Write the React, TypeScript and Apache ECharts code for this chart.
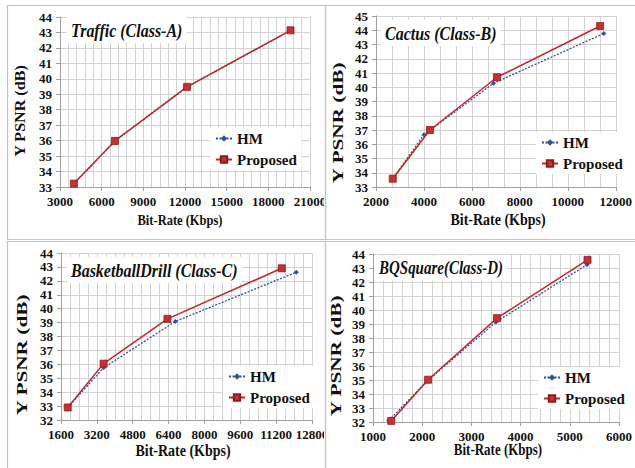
import React, { useEffect, useRef } from "react";
import * as echarts from "echarts";

// Panel titles
const panelTitles = ["Traffic (Class-A)", "Cactus (Class-B)", "BasketballDrill (Class-C)", "BQSquare(Class-D)"];
const seriesNames = ["HM", "Proposed"];

// Traffic (Class-A)
const trafficHMX = [4000, 6950, 12100, 19600];
const trafficHMY = [33.2, 35.97, 39.45, 43.13];
const trafficPX = [4000, 6950, 12150, 19600];
const trafficPY = [33.22, 35.98, 39.48, 43.14];

// Cactus (Class-B)
const cactusHMX = [2700, 4000, 6900, 11500];
const cactusHMY = [33.58, 36.67, 40.28, 43.77];
const cactusPX = [2700, 4250, 7050, 11350];
const cactusPY = [33.58, 37.0, 40.7, 44.3];

// BasketballDrill (Class-C)
const basketHMX = [1900, 3500, 6700, 12100];
const basketHMY = [32.9, 35.75, 39.08, 42.62];
const basketPX = [1900, 3500, 6350, 11450];
const basketPY = [32.9, 36.05, 39.27, 42.9];

// BQSquare (Class-D)
const bqHMX = [1320, 2100, 3500, 5350];
const bqHMY = [32.1, 34.92, 39.14, 43.24];
const bqPX = [1370, 2120, 3520, 5360];
const bqPY = [32.08, 35.02, 39.42, 43.58];

// Axis ranges
const xMins = [3000, 2000, 1600, 1000];
const xMaxs = [21000, 12000, 12800, 6000];
const xIntervals = [3000, 2000, 1600, 1000];
const xMinorSplits = [5, 3, 4, 5];
const yMins = [33, 33, 32, 32];
const yMaxs = [44, 45, 44, 44];

const FONT = "'Liberation Serif', 'Times New Roman', serif";

const pairs = (xs: number[], ys: number[]) => xs.map((x, i) => [x, ys[i]]);

export default function App() {
  const ref = useRef<HTMLDivElement>(null);
  useEffect(() => {
    if (!ref.current) return;
    const chart = echarts.init(ref.current, undefined, { renderer: "svg" });

    const grids = [
      { left: 60, top: 17, width: 250, height: 170 },
      { left: 376, top: 16, width: 245, height: 171 },
      { left: 61, top: 253, width: 251, height: 167 },
      { left: 373, top: 254, width: 255, height: 168 },
    ];
    const data = [
      [pairs(trafficHMX, trafficHMY), pairs(trafficPX, trafficPY)],
      [pairs(cactusHMX, cactusHMY), pairs(cactusPX, cactusPY)],
      [pairs(basketHMX, basketHMY), pairs(basketPX, basketPY)],
      [pairs(bqHMX, bqHMY), pairs(bqPX, bqPY)],
    ];
    const legendPos = [
      { left: 210, top: 128 },
      { left: 536, top: 132 },
      { left: 223, top: 366 },
      { left: 538, top: 367 },
    ];
    const titlePos = [
      { x: 67, y: 30, size: 16 },
      { x: 381, y: 33, size: 16 },
      { x: 67, y: 270, size: 16 },
      { x: 375, y: 268, size: 15 },
    ];
    const yTitlePos = [
      { x: 20, y: 111, size: 14, sx: 1.15 },
      { x: 338, y: 123, size: 15, sx: 1.42 },
      { x: 22, y: 355, size: 15, sx: 1.42 },
      { x: 336, y: 356, size: 15, sx: 1.42 },
    ];
    const xTitlePos = [
      { x: 180, y: 219, size: 12.5 },
      { x: 498, y: 219, size: 14 },
      { x: 183, y: 450, size: 14 },
      { x: 498, y: 449, size: 13 },
    ];

    const axisColor = "#a0a0a0";
    const gridColor = "#d2d2d2";
    const plain = (v: number) => String(v);

    const xAxis = grids.map((_, i) => ({
      type: "value",
      gridIndex: i,
      min: xMins[i],
      max: xMaxs[i],
      interval: xIntervals[i],
      axisLine: { show: true, lineStyle: { color: axisColor, width: 1 } },
      axisTick: { show: true, length: 4, lineStyle: { color: axisColor } },
      axisLabel: { fontFamily: FONT, fontWeight: "bold", fontSize: 13, color: "#111", margin: 8, formatter: plain },
      splitLine: { show: true, lineStyle: { color: gridColor, width: 1 } },
      minorTick: { show: false, splitNumber: xMinorSplits[i] },
      minorSplitLine: { show: true, lineStyle: { color: gridColor, width: 1 } },
    }));
    const yAxis = grids.map((_, i) => ({
      type: "value",
      gridIndex: i,
      min: yMins[i],
      max: yMaxs[i],
      interval: 1,
      axisLine: { show: true, lineStyle: { color: axisColor, width: 1 } },
      axisTick: { show: true, length: 4, lineStyle: { color: axisColor } },
      axisLabel: { fontFamily: FONT, fontWeight: "bold", fontSize: 13, color: "#111", margin: 8, formatter: plain },
      splitLine: { show: true, lineStyle: { color: gridColor, width: 1 } },
    }));

    const series: any[] = [];
    data.forEach((d, i) => {
      series.push({
        name: seriesNames[0],
        type: "line",
        xAxisIndex: i,
        yAxisIndex: i,
        data: d[0],
        symbol: "diamond",
        symbolSize: 5,
        color: "#2e5597",
        itemStyle: { color: "#2e5597" },
        lineStyle: { color: "#2e5597", width: 1.3, type: [2, 1.5] },
        z: 3,
      });
      series.push({
        name: seriesNames[1],
        type: "line",
        xAxisIndex: i,
        yAxisIndex: i,
        data: d[1],
        symbol: "rect",
        symbolSize: 7,
        color: "#c0282d",
        itemStyle: { color: "#c9302c", borderColor: "#8e1b1e", borderWidth: 0.8 },
        lineStyle: { color: "#c0282d", width: 1.5 },
        z: 4,
      });
    });

    const legend = legendPos.map((p) => ({
      data: seriesNames,
      left: p.left,
      top: p.top,
      orient: "vertical",
      backgroundColor: "#fff",
      padding: [3, 5],
      itemGap: 6,
      itemWidth: 16,
      itemHeight: 8,
      selectedMode: false,
      textStyle: { fontFamily: FONT, fontWeight: "bold", fontSize: 15, color: "#111" },
    }));

    const graphic: any[] = [];
    // clip overflow of right-most labels in left panels
    graphic.push({ type: "rect", z: 50, shape: { x: 324, y: 190, width: 22, height: 48 }, style: { fill: "#fff" } });
    graphic.push({ type: "rect", z: 50, shape: { x: 324, y: 424, width: 22, height: 24 }, style: { fill: "#fff" } });
    // panel frames
    const frameStyle = { fill: "none", stroke: "#c4c4c4", lineWidth: 1.2 };
    graphic.push({ type: "rect", z: 60, shape: { x: 7.5, y: 5.5, width: 318, height: 234 }, style: frameStyle });
    graphic.push({ type: "rect", z: 60, shape: { x: 325.5, y: 5.5, width: 330, height: 234 }, style: frameStyle });
    graphic.push({ type: "rect", z: 60, shape: { x: 7.5, y: 241.5, width: 318, height: 240 }, style: frameStyle });
    graphic.push({ type: "rect", z: 60, shape: { x: 325.5, y: 241.5, width: 330, height: 240 }, style: frameStyle });

    titlePos.forEach((p, i) => {
      graphic.push({
        type: "text",
        z: 40,
        x: p.x,
        y: p.y,
        scaleY: 1.2,
        style: {
          text: panelTitles[i],
          fontFamily: FONT,
          fontWeight: "bold",
          fontStyle: "italic",
          fontSize: p.size,
          fill: "#111",
          textAlign: "left",
          textVerticalAlign: "middle",
          backgroundColor: "#fff",
          padding: [3, 4],
        },
      });
    });
    yTitlePos.forEach((p) => {
      graphic.push({
        type: "text",
        z: 40,
        x: p.x,
        y: p.y,
        rotation: Math.PI / 2,
        scaleX: p.sx,
        style: {
          text: "Y PSNR (dB)",
          fontFamily: FONT,
          fontWeight: "bold",
          fontSize: p.size,
          fill: "#111",
          textAlign: "center",
          textVerticalAlign: "middle",
        },
      });
    });
    xTitlePos.forEach((p) => {
      graphic.push({
        type: "text",
        z: 40,
        x: p.x,
        y: p.y,
        scaleY: 1.25,
        style: {
          text: "Bit-Rate (Kbps)",
          fontFamily: FONT,
          fontWeight: "bold",
          fontSize: p.size,
          fill: "#111",
          textAlign: "center",
          textVerticalAlign: "middle",
        },
      });
    });

    chart.setOption({
      animation: false,
      backgroundColor: "#fff",
      grid: grids.map((g) => ({ ...g, containLabel: false })),
      xAxis,
      yAxis,
      series,
      legend,
      graphic,
    } as any);

    return () => chart.dispose();
  }, []);

  return (
    <div
      ref={ref}
      style={{ position: "absolute", left: 0, top: 0, width: 635, height: 468, background: "#fff" }}
    />
  );
}
